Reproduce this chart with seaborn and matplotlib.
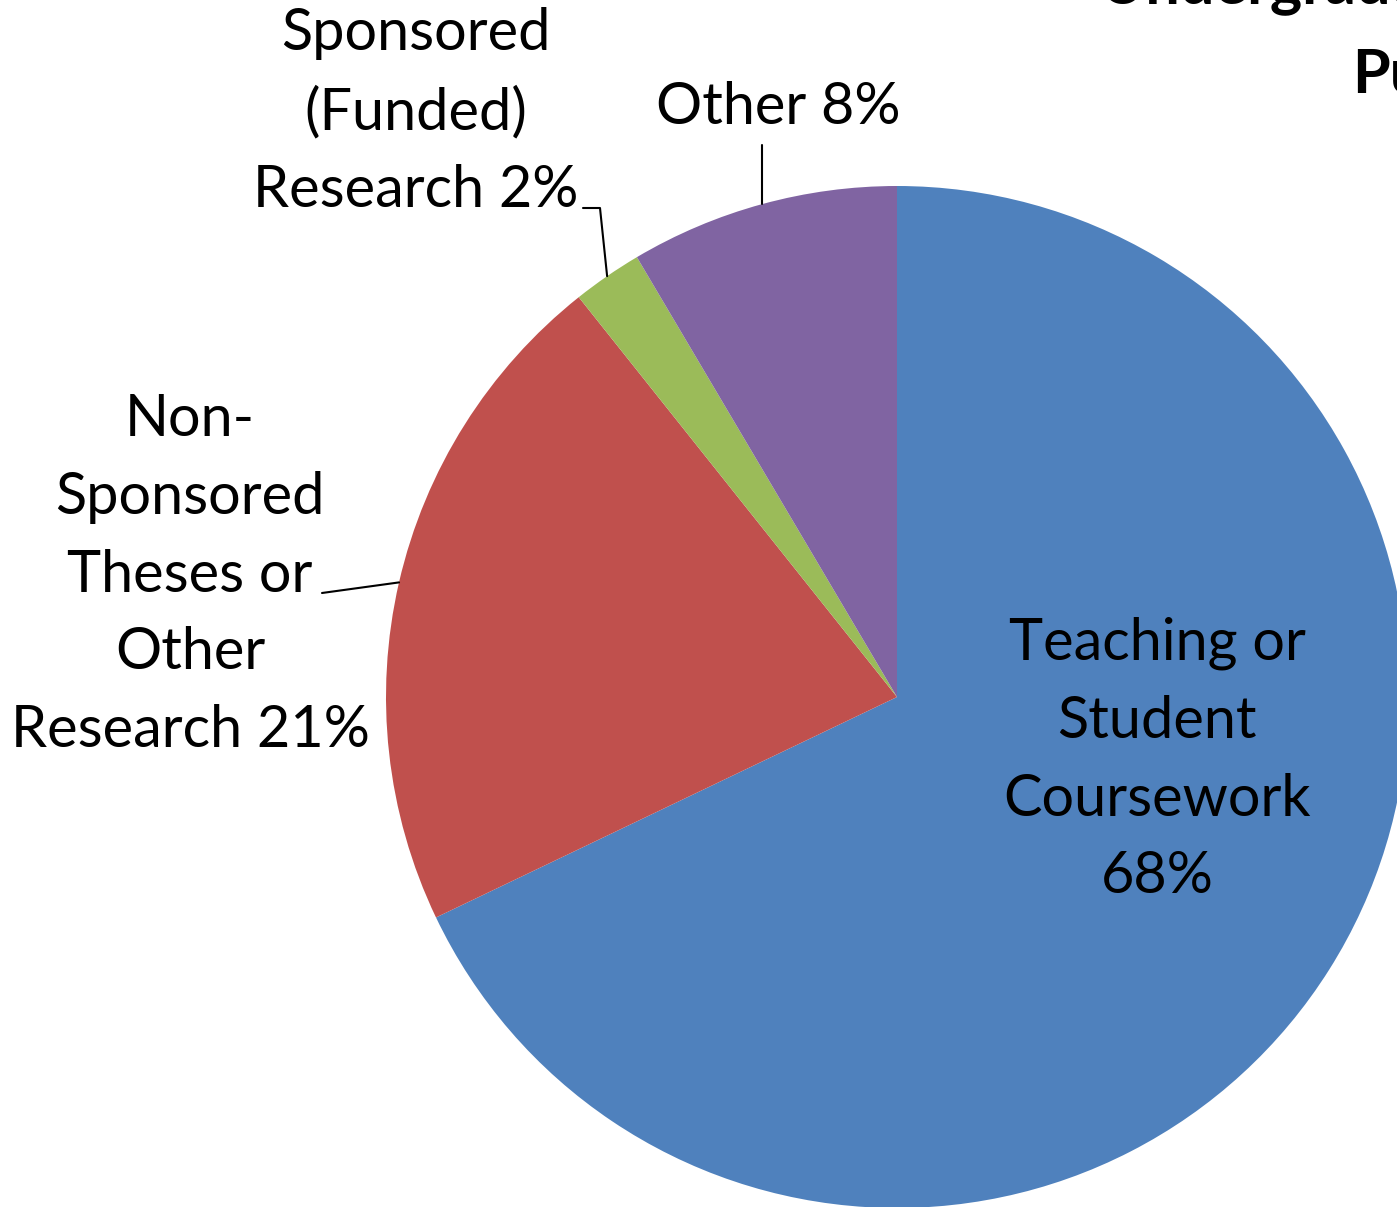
import numpy as np
import matplotlib
matplotlib.use("Agg")
import matplotlib.pyplot as plt
import seaborn as sns

# --- dados ---
categories = ["Teaching or Student Coursework", "Non-Sponsored Theses or Other Research",
              "Sponsored (Funded) Research", "Other"]
shares = [67.9, 21.4, 2.2, 8.5]
label_texts = ["Teaching or\nStudent\nCoursework\n68%",
               "Non-\nSponsored\nTheses or\nOther\nResearch 21%",
               "Sponsored\n(Funded)\nResearch 2%",
               "Other 8%"]
colors = ["#4F81BD", "#C0504D", "#9BBB59", "#8064A2"]
title_lines = ["Undergraduate Use by Primary", "Purpose"]

sns.set_theme(style="white")
plt.rcParams['font.family'] = ['Lato', 'DejaVu Sans']

W, H = 1397, 1207
fig = plt.figure(figsize=(W / 100, H / 100), dpi=100)
ax = fig.add_axes([0, 0, 1, 1])

cx, cy, r = 897, H - 697, 511
wedges, _ = ax.pie(shares, colors=colors, startangle=90, counterclock=False,
                   center=(cx, cy), radius=r, wedgeprops=dict(linewidth=0))
ax.set_xlim(0, W)
ax.set_ylim(0, H)
ax.set_aspect('equal')
ax.axis('off')

fs = 41.5
# rótulos (posição em pixels, y contado de cima)
label_pos = [(1157, 760), (190, 575), (416, 112), (778, 107)]
for txt, (x, y) in zip(label_texts, label_pos):
    ax.text(x, H - y, txt, ha='center', va='center', fontsize=fs,
            color='black', linespacing=1.57)


def edge_point(w):
    mid = np.deg2rad((w.theta1 + w.theta2) / 2)
    return cx + r * np.cos(mid), cy + r * np.sin(mid)


# linhas de chamada
ex, ey = edge_point(wedges[1])
ax.plot([322, ex], [H - 593, ey], color='black', lw=1.5)
ex, ey = edge_point(wedges[2])
ax.plot([583, 600, ex], [H - 208, H - 208, ey], color='black', lw=1.5)
ex, ey = edge_point(wedges[3])
ax.plot([ex, ex], [H - 145, ey], color='black', lw=1.5)

# título (cortado na borda, como no original)
ax.text(1100, H - 3, title_lines[0], ha='left', va='baseline', fontsize=44,
        fontweight='bold', color='black')
ax.text(1352, H - 93, title_lines[1], ha='left', va='baseline', fontsize=44,
        fontweight='bold', color='black')

fig.savefig("out.png", dpi=100)
